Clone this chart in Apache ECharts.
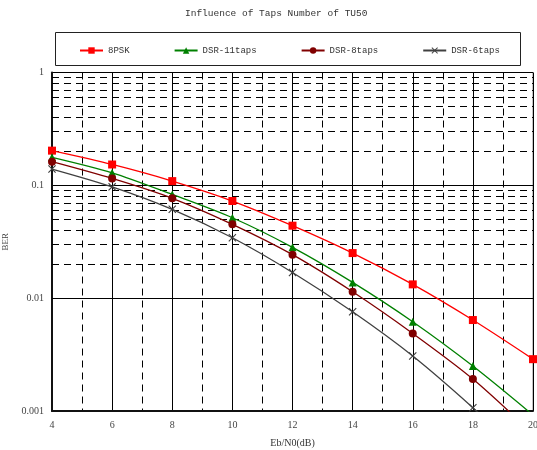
<!DOCTYPE html>
<html><head><meta charset="utf-8">
<script src="https://cdn.jsdelivr.net/npm/echarts@6/dist/echarts.min.js"></script>
<style>html,body{margin:0;padding:0;background:#fff}#c{width:537px;height:450px}</style>
</head><body><div id="c"></div>
<script>
const xValues = [4, 6, 8, 10, 12, 14, 16, 18, 20];
const psk8 = [0.203, 0.153, 0.109, 0.0726, 0.0439, 0.0251, 0.01325, 0.0064, 0.00288];
const dsr11 = [0.177, 0.129, 0.083, 0.0516, 0.0282, 0.0138, 0.00618, 0.0025, 0.00092];
const dsr8 = [0.162, 0.115, 0.0767, 0.0451, 0.0243, 0.0114, 0.00487, 0.00192, 0.000625];
const dsr6 = [0.1395, 0.097, 0.0613, 0.0343, 0.0169, 0.00757, 0.00307, 0.00107, 0.00034];
const seriesNames = ['8PSK', 'DSR-11taps', 'DSR-8taps', 'DSR-6taps'];
const yTicks = ['1', '0.1', '0.01', '0.001'];

const minorY = [];
[0.001, 0.01, 0.1].forEach(d => { for (let m = 2; m <= 9; m++) minorY.push(+(d * m).toPrecision(3)); });

const cross = 'path://M0,1L1,0L5,4L9,0L10,1L6,5L10,9L9,10L5,6L1,10L0,9L4,5Z';
const font = 'Liberation Serif';
const mono = 'Liberation Mono';

function mk(name, data, color, symbol, size) {
  return {
    name, type: 'line', data: xValues.map((x, i) => [x, data[i]]),
    smooth: 0.3, symbol, symbolSize: size, clip: true,
    lineStyle: { color, width: 1.3 }, itemStyle: { color },
    z: 5
  };
}

const chart = echarts.init(document.getElementById('c'));
chart.setOption({
  animation: false,
  title: { text: 'Influence of Taps Number of TU50', left: 185, top: 8, padding: 0,
    textStyle: { fontFamily: mono, fontSize: 9.5, fontWeight: 'normal', color: '#333' } },
  graphic: [{ type: 'rect', shape: { x: 55.5, y: 32.5, width: 465, height: 33 },
    style: { fill: 'none', stroke: '#222', lineWidth: 1 }, z: 0 }],
  legend: { left: 79, top: 46, padding: 0, itemWidth: 23, itemHeight: 8, itemGap: 44,
    textStyle: { fontFamily: mono, fontSize: 9, color: '#333' },
    data: seriesNames },
  grid: { left: 52, right: 4, top: 72.5, bottom: 39, show: true, borderColor: '#888', borderWidth: 1,
    containLabel: false, outerBoundsMode: 'none' },
  xAxis: {
    type: 'value', min: 4, max: 20, interval: 2,
    name: 'Eb/N0(dB)', nameLocation: 'middle', nameGap: 27,
    nameTextStyle: { fontFamily: font, fontSize: 10, color: '#333' },
    axisLine: { lineStyle: { color: '#111', width: 2 } },
    axisTick: { show: false },
    axisLabel: { fontFamily: font, fontSize: 10, color: '#444', margin: 9 },
    splitLine: { show: true, lineStyle: { color: '#000', width: 1 } },
    minorTick: { show: false, splitNumber: 2 },
    minorSplitLine: { show: true, lineStyle: { color: '#000', width: 1, type: [7, 5] } }
  },
  yAxis: {
    type: 'log', min: 0.001, max: 1, logBase: 10,
    name: 'BER', nameLocation: 'middle', nameGap: 36, nameRotate: 90,
    nameTextStyle: { fontFamily: font, fontSize: 9, color: '#444' },
    axisLine: { lineStyle: { color: '#111', width: 2 } },
    axisTick: { show: false },
    axisLabel: { fontFamily: font, fontSize: 10, color: '#444', margin: 8,
      formatter: v => { const i = Math.round(-Math.log10(v)); return yTicks[i]; } },
    splitLine: { show: true, lineStyle: { color: '#000', width: 1 } }
  },
  series: [
    { name: 'minor', type: 'line', data: [], silent: true,
      markLine: { silent: true, symbol: 'none', label: { show: false }, animation: false,
        lineStyle: { color: '#000', width: 1, type: [7, 5] },
        data: minorY.map(v => ({ yAxis: v })) } },
    mk('8PSK', psk8, '#ff0000', 'rect', 8),
    mk('DSR-11taps', dsr11, '#008000', 'triangle', 8),
    mk('DSR-8taps', dsr8, '#800000', 'circle', 8),
    mk('DSR-6taps', dsr6, '#404040', cross, 8)
  ]
});
</script></body></html>
